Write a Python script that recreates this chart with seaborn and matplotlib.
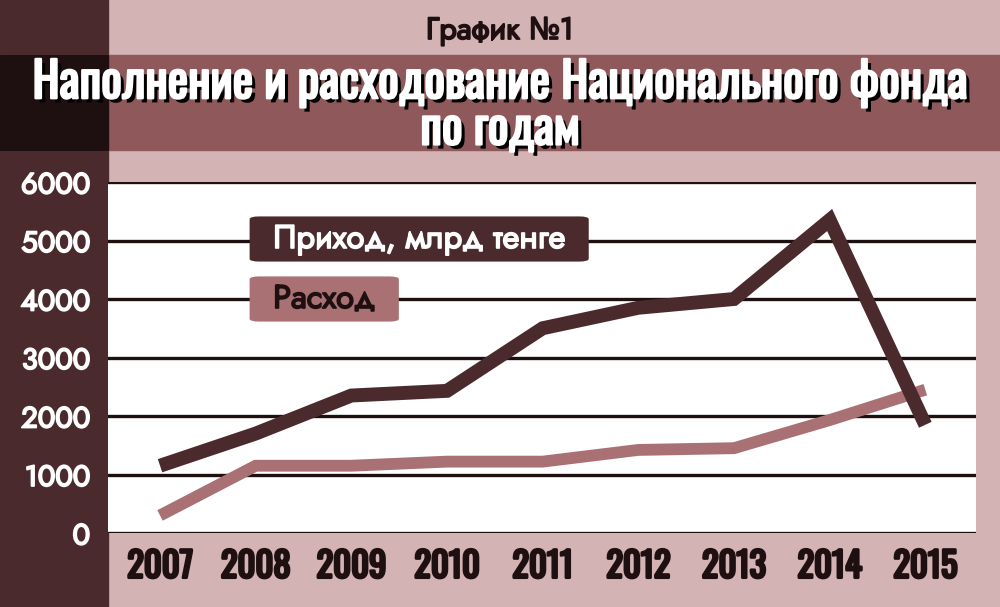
import pandas as pd
import seaborn as sns
import matplotlib.pyplot as plt
import matplotlib.patheffects as pe
from matplotlib.patches import Rectangle

# data (млрд тенге)
years = [2007, 2008, 2009, 2010, 2011, 2012, 2013, 2014, 2015]
income = [1150, 1700, 2350, 2430, 3500, 3850, 4000, 5350, 1850]
spending = [300, 1150, 1150, 1220, 1220, 1420, 1450, 1930, 2450]
yticks = [0, 1000, 2000, 3000, 4000, 5000, 6000]

df = pd.DataFrame({"year": years, "Приход": income, "Расход": spending})

DARK = "#4a2a2c"
DARKER = "#1e1011"
PINK = "#d4b3b5"
BAND = "#8f585a"
ROSE = "#a97173"

COND = ["Oswald", "DejaVu Sans"]
ROUND = ["Jost", "Open Sans", "DejaVu Sans"]


def heavy(color, lw):
    # fake a heavier weight: outline the glyphs in their own colour
    return [pe.Stroke(linewidth=lw, foreground=color), pe.Normal()]


sns.set_theme(style="white")
plt.rcParams["font.family"] = ["DejaVu Sans"]

W, H = 1000, 607
fig = plt.figure(figsize=(10, 6.07), dpi=100)
fig.patch.set_facecolor(PINK)

# background blocks
fig.patches.append(Rectangle((0, 0), 108 / W, 1, transform=fig.transFigure, color=DARK, zorder=-2))
fig.patches.append(Rectangle((0, (H - 150) / H), 1, 95 / H, transform=fig.transFigure, color=BAND, zorder=-2))
fig.patches.append(Rectangle((0, (H - 150) / H), 108 / W, 95 / H, transform=fig.transFigure, color=DARKER, zorder=-1))

ax = fig.add_axes([108 / W, (H - 533) / H, 868 / W, 351 / H])
ax.set_facecolor("white")

for y in yticks:
    ax.axhline(y, color=DARKER, lw=2.4, zorder=1)

sns.lineplot(data=df, x="year", y="Приход", color=DARK, lw=10, ax=ax, zorder=3,
             solid_joinstyle="miter", solid_capstyle="butt")
sns.lineplot(data=df, x="year", y="Расход", color=ROSE, lw=8.5, ax=ax, zorder=2,
             solid_joinstyle="miter", solid_capstyle="butt")

ax.set_ylim(0, 6000)
ax.set_xlim(2007 - 0.544, 2015 + 0.53)
ax.set_xticks(years)
ax.set_yticks(yticks)
ax.set_xlabel("")
ax.set_ylabel("")
for s in ax.spines.values():
    s.set_visible(False)
ax.tick_params(axis="both", length=0)
ax.tick_params(axis="y", pad=13)
ax.tick_params(axis="x", pad=12)
for lab in ax.get_yticklabels():
    lab.set_color("white")
    lab.set_fontsize(21)
    lab.set_family(ROUND)
    lab.set_path_effects(heavy("white", 1.3))
for lab in ax.get_xticklabels():
    lab.set_color(DARKER)
    lab.set_fontsize(25)
    lab.set_family(COND)
    lab.set_path_effects(heavy(DARKER, 2.0))

# legend boxes
leg_x = 2007 + (273 - 160) / 95.6
leg_y1 = (533 - 239) / 351 * 6000
leg_y2 = (533 - 299) / 351 * 6000
box = dict(boxstyle="round,pad=0.72,rounding_size=0.3", ec="none", mutation_aspect=0.28)
ax.text(leg_x, leg_y1, "Приход, млрд тенге", color="white", fontsize=23.5,
        family=ROUND, va="center", ha="left", zorder=5, path_effects=heavy("white", 1.2),
        bbox=dict(box, fc=DARK))
ax.text(leg_x, leg_y2, "Расход", color=DARKER, fontsize=23.5,
        family=ROUND, va="center", ha="left", zorder=5, path_effects=heavy(DARKER, 1.2),
        bbox=dict(box, fc=ROSE))

# titles
fig.text(0.5, (H - 31) / H, "График №1", color=DARKER, fontsize=22,
         family=ROUND, ha="center", va="center", path_effects=heavy(DARKER, 1.3))
shadow = [pe.SimplePatchShadow(offset=(3, -3), shadow_rgbFace="black", alpha=1),
          pe.Stroke(linewidth=1.6, foreground="white"), pe.Normal()]
fig.text(0.5, (H - 83) / H, "Наполнение и расходование Национального фонда", color="white",
         fontsize=35, family=COND, ha="center", va="center", path_effects=shadow)
fig.text(0.5, (H - 129) / H, "по годам", color="white",
         fontsize=35, family=COND, ha="center", va="center", path_effects=shadow)

fig.savefig("out.png", dpi=100, facecolor=fig.get_facecolor())
